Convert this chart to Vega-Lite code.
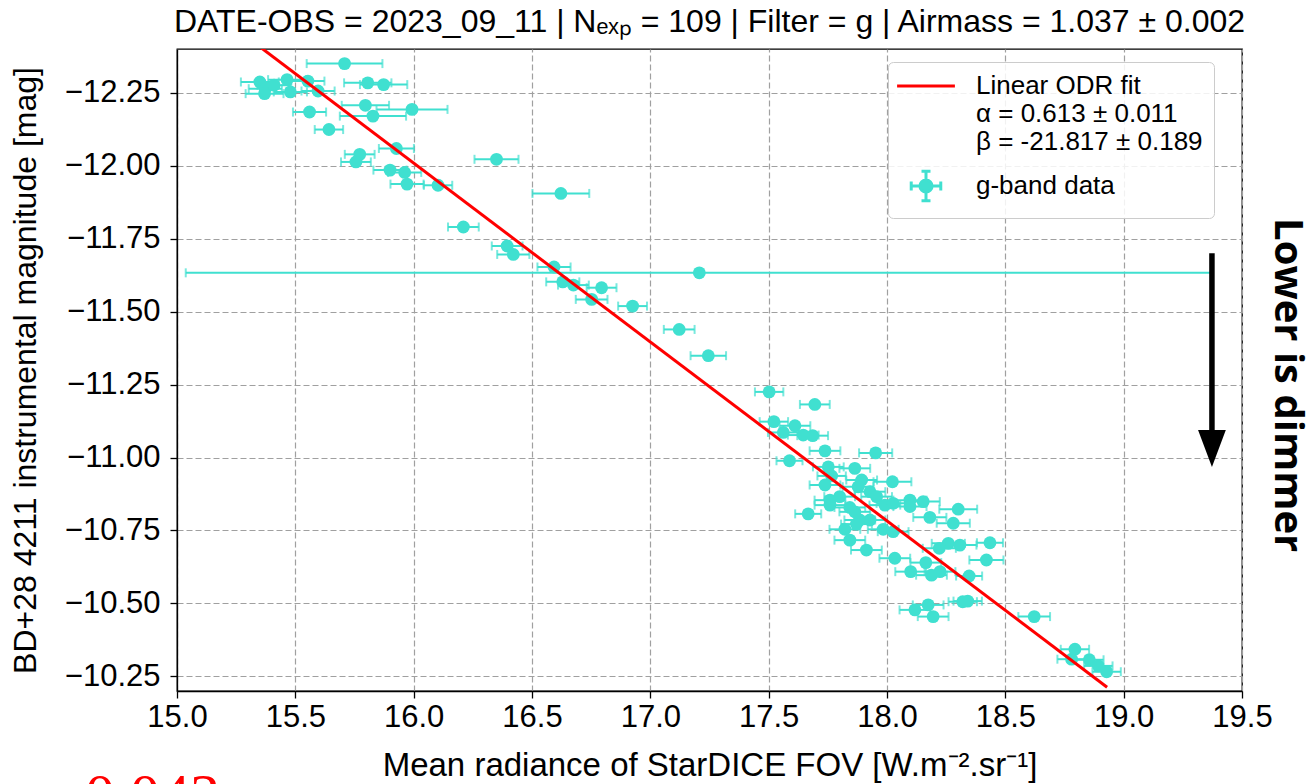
{
  "$schema": "https://vega.github.io/schema/vega-lite/v6.json",
  "width": 1065,
  "height": 642,
  "autosize": {"type": "none"},
  "padding": {"left": 177, "top": 49, "right": 74, "bottom": 93},
  "background": "white",
  "title": {
    "text": "DATE-OBS = 2023_09_11 | Nₑₓₚ = 109 | Filter = g | Airmass = 1.037 ± 0.002",
    "font": "Liberation Sans",
    "fontSize": 32,
    "fontWeight": "normal",
    "color": "black",
    "anchor": "middle",
    "baseline": "alphabetic",
    "offset": -19
  },
  "config": {
    "view": {"stroke": "black", "strokeWidth": 1.3},
    "axis": {
      "labelFont": "Liberation Sans",
      "labelFontSize": 31,
      "labelColor": "black",
      "titleFont": "Liberation Sans",
      "titleFontSize": 32,
      "titleFontWeight": "normal",
      "titleColor": "black",
      "domainColor": "black",
      "domainWidth": 1.3,
      "tickColor": "black",
      "tickSize": 7,
      "tickWidth": 1.3,
      "gridColor": "#a0a0a0",
      "gridDash": [6, 3],
      "gridWidth": 1.2,
      "labelFlush": false,
      "labelOverlap": false
    }
  },
  "datasets": {
    "pts": [
      {"x": 15.708, "y": -12.35, "xerr": 0.16},
      {"x": 15.35, "y": -12.287, "xerr": 0.08},
      {"x": 15.373, "y": -12.264, "xerr": 0.07},
      {"x": 15.37, "y": -12.247, "xerr": 0.08},
      {"x": 15.41, "y": -12.276, "xerr": 0.07},
      {"x": 15.465, "y": -12.295, "xerr": 0.08},
      {"x": 15.479, "y": -12.253, "xerr": 0.07},
      {"x": 15.553, "y": -12.29, "xerr": 0.07},
      {"x": 15.596, "y": -12.256, "xerr": 0.07},
      {"x": 15.806, "y": -12.284, "xerr": 0.1},
      {"x": 15.873, "y": -12.278, "xerr": 0.1},
      {"x": 15.796, "y": -12.207, "xerr": 0.1},
      {"x": 15.993, "y": -12.193, "xerr": 0.15},
      {"x": 15.56, "y": -12.184, "xerr": 0.07},
      {"x": 15.828, "y": -12.17, "xerr": 0.14},
      {"x": 15.642, "y": -12.124, "xerr": 0.06},
      {"x": 15.772, "y": -12.039, "xerr": 0.063},
      {"x": 15.756, "y": -12.013, "xerr": 0.063},
      {"x": 15.927, "y": -12.059, "xerr": 0.074},
      {"x": 15.9, "y": -11.985, "xerr": 0.07},
      {"x": 15.962, "y": -11.977, "xerr": 0.07},
      {"x": 15.972, "y": -11.937, "xerr": 0.07},
      {"x": 16.103, "y": -11.933, "xerr": 0.06},
      {"x": 16.21, "y": -11.79, "xerr": 0.065},
      {"x": 16.35, "y": -12.022, "xerr": 0.093},
      {"x": 16.622, "y": -11.905, "xerr": 0.12},
      {"x": 16.395, "y": -11.725, "xerr": 0.065},
      {"x": 16.421, "y": -11.696, "xerr": 0.068},
      {"x": 16.593, "y": -11.653, "xerr": 0.07},
      {"x": 17.207, "y": -11.633, "xerr": 2.17},
      {"x": 16.63, "y": -11.602, "xerr": 0.07},
      {"x": 16.675, "y": -11.591, "xerr": 0.065},
      {"x": 16.794, "y": -11.582, "xerr": 0.063},
      {"x": 16.752, "y": -11.542, "xerr": 0.067},
      {"x": 16.925, "y": -11.519, "xerr": 0.061},
      {"x": 17.122, "y": -11.439, "xerr": 0.065},
      {"x": 17.245, "y": -11.349, "xerr": 0.075},
      {"x": 17.502, "y": -11.225, "xerr": 0.06},
      {"x": 17.695, "y": -11.182, "xerr": 0.063},
      {"x": 17.522, "y": -11.123, "xerr": 0.06},
      {"x": 17.611, "y": -11.109, "xerr": 0.065},
      {"x": 17.562, "y": -11.086, "xerr": 0.065},
      {"x": 17.646, "y": -11.077, "xerr": 0.065},
      {"x": 17.686, "y": -11.075, "xerr": 0.065},
      {"x": 17.738, "y": -11.023, "xerr": 0.065},
      {"x": 17.952, "y": -11.016, "xerr": 0.07},
      {"x": 17.588, "y": -10.989, "xerr": 0.055},
      {"x": 17.752, "y": -10.968, "xerr": 0.065},
      {"x": 17.864, "y": -10.963, "xerr": 0.065},
      {"x": 17.766, "y": -10.937, "xerr": 0.06},
      {"x": 17.893, "y": -10.923, "xerr": 0.065},
      {"x": 18.023, "y": -10.917, "xerr": 0.08},
      {"x": 17.738, "y": -10.906, "xerr": 0.065},
      {"x": 17.878, "y": -10.9, "xerr": 0.065},
      {"x": 17.928, "y": -10.883, "xerr": 0.065},
      {"x": 17.956, "y": -10.866, "xerr": 0.065},
      {"x": 17.759, "y": -10.854, "xerr": 0.065},
      {"x": 17.8, "y": -10.866, "xerr": 0.065},
      {"x": 17.759, "y": -10.837, "xerr": 0.065},
      {"x": 17.843, "y": -10.829, "xerr": 0.065},
      {"x": 17.991, "y": -10.837, "xerr": 0.065},
      {"x": 18.026, "y": -10.843, "xerr": 0.07},
      {"x": 18.097, "y": -10.854, "xerr": 0.07},
      {"x": 18.153, "y": -10.849, "xerr": 0.07},
      {"x": 18.097, "y": -10.832, "xerr": 0.07},
      {"x": 17.667, "y": -10.807, "xerr": 0.055},
      {"x": 17.864, "y": -10.814, "xerr": 0.065},
      {"x": 17.885, "y": -10.786, "xerr": 0.065},
      {"x": 17.928, "y": -10.786, "xerr": 0.065},
      {"x": 17.871, "y": -10.772, "xerr": 0.065},
      {"x": 18.301, "y": -10.823, "xerr": 0.08},
      {"x": 18.181, "y": -10.795, "xerr": 0.07},
      {"x": 18.28, "y": -10.775, "xerr": 0.07},
      {"x": 17.984, "y": -10.754, "xerr": 0.065},
      {"x": 18.026, "y": -10.746, "xerr": 0.065},
      {"x": 17.822, "y": -10.754, "xerr": 0.065},
      {"x": 17.843, "y": -10.717, "xerr": 0.065},
      {"x": 17.913, "y": -10.683, "xerr": 0.065},
      {"x": 18.259, "y": -10.706, "xerr": 0.07},
      {"x": 18.308, "y": -10.7, "xerr": 0.07},
      {"x": 18.435, "y": -10.708, "xerr": 0.055},
      {"x": 18.033, "y": -10.655, "xerr": 0.065},
      {"x": 18.164, "y": -10.64, "xerr": 0.065},
      {"x": 18.221, "y": -10.689, "xerr": 0.07},
      {"x": 18.42, "y": -10.649, "xerr": 0.072},
      {"x": 18.1, "y": -10.609, "xerr": 0.065},
      {"x": 18.188, "y": -10.597, "xerr": 0.065},
      {"x": 18.224, "y": -10.609, "xerr": 0.065},
      {"x": 18.347, "y": -10.594, "xerr": 0.055},
      {"x": 18.118, "y": -10.478, "xerr": 0.065},
      {"x": 18.174, "y": -10.495, "xerr": 0.065},
      {"x": 18.195, "y": -10.455, "xerr": 0.065},
      {"x": 18.32, "y": -10.506, "xerr": 0.06},
      {"x": 18.341, "y": -10.508, "xerr": 0.06},
      {"x": 18.622, "y": -10.455, "xerr": 0.067},
      {"x": 18.794, "y": -10.343, "xerr": 0.06},
      {"x": 18.78, "y": -10.309, "xerr": 0.06},
      {"x": 18.855, "y": -10.307, "xerr": 0.06},
      {"x": 18.893, "y": -10.286, "xerr": 0.06},
      {"x": 18.928, "y": -10.266, "xerr": 0.06}
    ],
    "fit": [
      {"x": 15.34, "y": -12.4136, "series": "fit"},
      {"x": 18.93, "y": -10.2129, "series": "fit"}
    ]
  },
  "layer": [
    {
      "data": {"name": "pts"},
      "mark": {"type": "errorbar", "ticks": true, "size": 9, "thickness": 2, "color": "#40E0D0"},
      "encoding": {
        "x": {"field": "x", "type": "quantitative", "scale": {"domain": [15, 19.5], "nice": false, "zero": false},
          "axis": {"values": [15, 15.5, 16, 16.5, 17, 17.5, 18, 18.5, 19, 19.5], "format": ".1f", "labelPadding": 4,
            "title": "Mean radiance of StarDICE FOV [W.m⁻².sr⁻¹]", "titleFontSize": 33, "titleY": 74, "titleBaseline": "middle"}},
        "xError": {"field": "xerr"},
        "y": {"field": "y", "type": "quantitative", "scale": {"domain": [-12.4, -10.2], "nice": false, "zero": false, "reverse": true},
          "axis": {"values": [-12.25, -12, -11.75, -11.5, -11.25, -11, -10.75, -10.5, -10.25], "format": ".2f", "labelPadding": 10,
            "title": "BD+28 4211 instrumental magnitude [mag]", "titleX": -152, "titleY": 321, "titleAngle": -90, "titleAlign": "center", "titleBaseline": "middle"}}
      }
    },
    {
      "data": {"name": "pts"},
      "mark": {"type": "point", "filled": true, "opacity": 1, "size": 165, "color": "#40E0D0"},
      "encoding": {
        "x": {"field": "x", "type": "quantitative"},
        "y": {"field": "y", "type": "quantitative"}
      }
    },
    {
      "data": {"name": "fit"},
      "mark": {"type": "line", "strokeWidth": 3, "clip": true, "color": "#ff0000"},
      "encoding": {
        "x": {"field": "x", "type": "quantitative"},
        "y": {"field": "y", "type": "quantitative"}
      }
    },
    {
      "data": {"name": "fit"},
      "mark": {"type": "point", "filled": true, "opacity": 0, "size": 165},
      "encoding": {
        "x": {"field": "x", "type": "quantitative"},
        "y": {"field": "y", "type": "quantitative"},
        "color": {"field": "series", "type": "nominal",
          "scale": {"domain": ["fit", "data"], "range": ["#ff0000", "#40E0D0"]},
          "legend": {
            "orient": "none", "legendX": 711, "legendY": 13, "title": null,
            "labelFont": "Liberation Sans", "labelFontSize": 26, "labelColor": "black", "labelLimit": 500,
            "labelExpr": "datum.value === 'fit' ? ['Linear ODR fit', 'α = 0.613 ± 0.011', 'β = -21.817 ± 0.189'] : 'g-band data'",
            "symbolSize": 165, "symbolStrokeWidth": 3, "symbolOpacity": 1, "symbolOffset": 14, "labelOffset": 37, "padding": 11, "rowPadding": 10,
            "fillColor": "rgba(255,255,255,0.85)", "strokeColor": "#cccccc", "cornerRadius": 5
          }},
        "stroke": {"field": "series", "type": "nominal",
          "scale": {"domain": ["fit", "data"], "range": ["#ff0000", "#40E0D0"]},
          "legend": {
            "orient": "none", "legendX": 711, "legendY": 13, "title": null,
            "labelFont": "Liberation Sans", "labelFontSize": 26, "labelColor": "black", "labelLimit": 500,
            "labelExpr": "datum.value === 'fit' ? ['Linear ODR fit', 'α = 0.613 ± 0.011', 'β = -21.817 ± 0.189'] : 'g-band data'",
            "symbolSize": 165, "symbolStrokeWidth": 3, "symbolOpacity": 1, "symbolOffset": 14, "labelOffset": 37, "padding": 11, "rowPadding": 10,
            "fillColor": "rgba(255,255,255,0.85)", "strokeColor": "#cccccc", "cornerRadius": 5
          }},
        "shape": {"field": "series", "type": "nominal",
          "scale": {"domain": ["fit", "data"], "range": ["M-4.5,0L4.5,0", "M-0.95,0A0.95,0.95,0,1,0,0.95,0A0.95,0.95,0,1,0,-0.95,0Z M-2.3,0L2.3,0 M-2.3,-0.7L-2.3,0.7 M2.3,-0.7L2.3,0.7 M0,-2.3L0,2.3 M-0.7,-2.3L0.7,-2.3 M-0.7,2.3L0.7,2.3"]},
          "legend": {
            "orient": "none", "legendX": 711, "legendY": 13, "title": null,
            "labelFont": "Liberation Sans", "labelFontSize": 26, "labelColor": "black", "labelLimit": 500,
            "labelExpr": "datum.value === 'fit' ? ['Linear ODR fit', 'α = 0.613 ± 0.011', 'β = -21.817 ± 0.189'] : 'g-band data'",
            "symbolSize": 165, "symbolStrokeWidth": 3, "symbolOpacity": 1, "symbolOffset": 14, "labelOffset": 37, "padding": 11, "rowPadding": 10,
            "fillColor": "rgba(255,255,255,0.85)", "strokeColor": "#cccccc", "cornerRadius": 5
          }}
      }
    },
    {
      "data": {"values": [{}]},
      "mark": {"type": "rule", "color": "black", "strokeWidth": 5.5, "strokeCap": "butt"},
      "encoding": {
        "x": {"datum": 19.373, "type": "quantitative"},
        "y": {"datum": -11.70, "type": "quantitative"},
        "y2": {"datum": -11.087}
      }
    },
    {
      "data": {"values": [{}]},
      "mark": {"type": "point", "shape": "M-0.75,-1L0.75,-1L0,1Z", "filled": true, "color": "black", "opacity": 1, "size": 1369},
      "encoding": {
        "x": {"datum": 19.373, "type": "quantitative"},
        "y": {"datum": -11.031, "type": "quantitative"}
      }
    },
    {
      "data": {"values": [{}]},
      "mark": {"type": "text", "text": "Lower is dimmer", "angle": 90, "font": "Open Sans", "fontWeight": "bold", "fontSize": 40, "align": "center", "baseline": "middle", "color": "black"},
      "encoding": {
        "x": {"datum": 19.69, "type": "quantitative"},
        "y": {"datum": -11.248, "type": "quantitative"}
      }
    },
    {
      "data": {"values": [{}]},
      "mark": {"type": "text", "text": "0.043", "font": "Liberation Serif", "fontSize": 60, "align": "left", "baseline": "alphabetic", "color": "#ff0000"},
      "encoding": {
        "x": {"datum": 14.611, "type": "quantitative"},
        "y": {"datum": -9.7736, "type": "quantitative"}
      }
    }
  ]
}
